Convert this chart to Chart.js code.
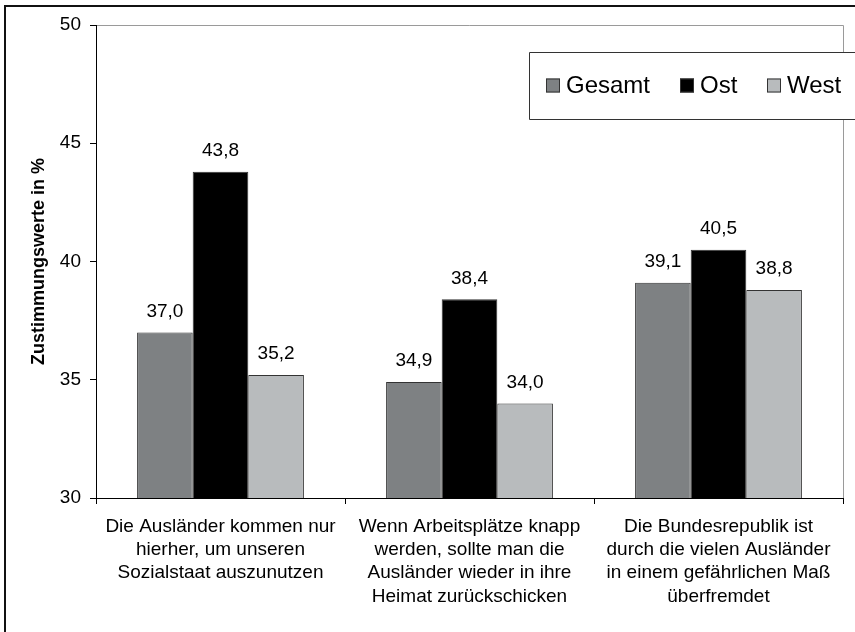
<!DOCTYPE html>
<html>
<head>
<meta charset="utf-8">
<script src="https://cdn.jsdelivr.net/npm/chart.js@4/dist/chart.umd.min.js"></script>
<style>
html,body{margin:0;padding:0;background:#fff;}
#c{display:block;}
</style>
</head>
<body>
<canvas id="c" width="855" height="632"></canvas>
<script>
const categories = [
  ["Die Ausländer kommen nur", "hierher, um unseren", "Sozialstaat auszunutzen"],
  ["Wenn Arbeitsplätze knapp", "werden, sollte man die", "Ausländer wieder in ihre", "Heimat zurückschicken"],
  ["Die Bundesrepublik ist", "durch die vielen Ausländer", "in einem gefährlichen Maß", "überfremdet"]
];
const seriesNames = ["Gesamt", "Ost", "West"];
const gesamt = [37.0, 34.9, 39.1];
const ost = [43.8, 38.4, 40.5];
const west = [35.2, 34.0, 38.8];
const yTicks = [30, 35, 40, 45, 50];
const yTitle = "Zustimmungswerte in %";

const colors = ["#7e8183", "#000000", "#b8bbbd"];
const FONT = "'Liberation Sans', Arial, sans-serif";

const framePlugin = {
  id: 'frame',
  beforeDraw(chart) {
    const ctx = chart.ctx;
    ctx.save();
    ctx.fillStyle = '#fff';
    ctx.fillRect(0, 0, chart.width, chart.height);
    ctx.strokeStyle = '#111';
    ctx.lineWidth = 2;
    ctx.beginPath();
    ctx.moveTo(5, 632);
    ctx.lineTo(5, 6);
    ctx.lineTo(855, 6);
    ctx.stroke();
    const a = chart.chartArea;
    ctx.strokeStyle = '#9a9a9a';
    ctx.lineWidth = 1;
    ctx.beginPath();
    ctx.moveTo(a.left, a.top + 0.5);
    ctx.lineTo(a.right + 0.5, a.top + 0.5);
    ctx.lineTo(a.right + 0.5, a.bottom);
    ctx.stroke();
    ctx.restore();
  },
  afterDatasetsDraw(chart) {
    const ctx = chart.ctx;
    ctx.save();
    ctx.fillStyle = '#000';
    ctx.font = "19px " + FONT;
    ctx.textAlign = 'center';
    ctx.textBaseline = 'middle';
    chart.data.datasets.forEach((ds, i) => {
      const meta = chart.getDatasetMeta(i);
      meta.data.forEach((bar, j) => {
        ctx.fillText(ds.data[j].toFixed(1).replace('.', ','), bar.x, bar.y - 21);
      });
    });
    const lx = 529, ly = 52, lh = 67;
    ctx.fillStyle = '#fff';
    ctx.fillRect(lx, ly, 855 - lx + 10, lh);
    ctx.strokeStyle = '#333';
    ctx.lineWidth = 1;
    ctx.beginPath();
    ctx.moveTo(870, ly + 0.5);
    ctx.lineTo(lx + 0.5, ly + 0.5);
    ctx.lineTo(lx + 0.5, ly + lh + 0.5);
    ctx.lineTo(870, ly + lh + 0.5);
    ctx.stroke();
    const itemX = [546, 680, 767];
    const cy = ly + 33.5;
    ctx.font = "24px " + FONT;
    ctx.textAlign = 'left';
    ctx.textBaseline = 'middle';
    chart.data.datasets.forEach((ds, i) => {
      const x = itemX[i];
      ctx.fillStyle = ds.backgroundColor;
      ctx.fillRect(x, cy - 7, 14, 14);
      ctx.strokeStyle = '#333';
      ctx.strokeRect(x + 0.5, cy - 6.5, 13, 13);
      ctx.fillStyle = '#000';
      ctx.fillText(ds.label, x + 20, cy + 1);
    });
    ctx.restore();
  }
};

new Chart(document.getElementById('c'), {
  type: 'bar',
  data: {
    labels: categories,
    datasets: [
      { label: seriesNames[0], data: gesamt, backgroundColor: colors[0] },
      { label: seriesNames[1], data: ost, backgroundColor: colors[1] },
      { label: seriesNames[2], data: west, backgroundColor: colors[2] }
    ].map(d => Object.assign(d, { borderColor: '#333', borderWidth: 1, categoryPercentage: 0.67, barPercentage: 1.0 }))
  },
  options: {
    responsive: false,
    animation: false,
    layout: { padding: { left: 0, top: 25, right: 12, bottom: 0 } },
    plugins: { legend: { display: false }, tooltip: { enabled: false } },
    scales: {
      x: {
        afterFit(s) { s.height = 134; },
        grid: { drawOnChartArea: false, tickLength: 6, color: '#000', offset: true },
        border: { color: '#000', width: 1 },
        ticks: { color: '#000', font: { family: FONT, size: 19, lineHeight: 1.226 }, padding: 11, maxRotation: 0, autoSkip: false }
      },
      y: {
        min: 30, max: 50,
        afterFit(s) { s.width = 96; },
        afterBuildTicks(s) { s.ticks = yTicks.map(v => ({ value: v })); },
        grid: { drawOnChartArea: false, tickLength: 6, color: '#000' },
        border: { color: '#000', width: 1 },
        ticks: { color: '#000', font: { family: FONT, size: 19 }, padding: 9 },
        title: { display: true, text: yTitle, color: '#000', font: { family: FONT, size: 18, weight: 'bold' }, padding: { top: 28, bottom: 0 } }
      }
    }
  },
  plugins: [framePlugin]
});
</script>
</body>
</html>
